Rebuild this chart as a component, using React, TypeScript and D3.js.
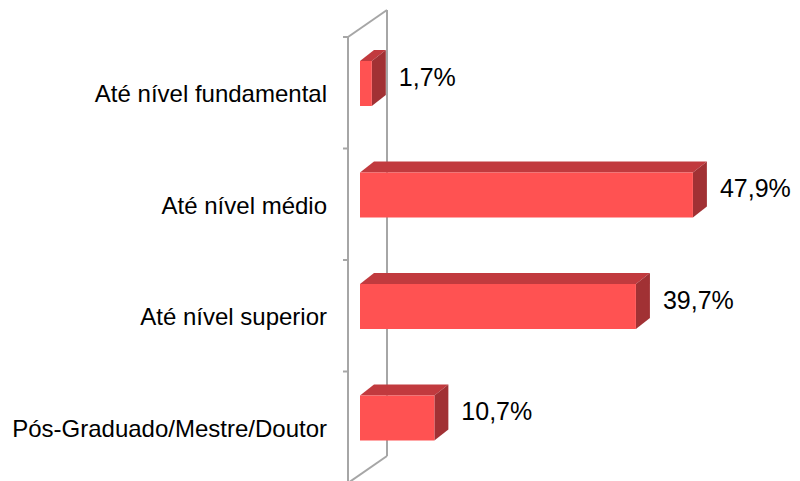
import React from "react";
import * as d3 from "d3";

const categories = [
  "Até nível fundamental",
  "Até nível médio",
  "Até nível superior",
  "Pós-Graduado/Mestre/Doutor",
];
const values = [1.7, 47.9, 39.7, 10.7];
const valueLabels = ["1,7%", "47,9%", "39,7%", "10,7%"];

const W = 800;
const H = 481;

export default function App() {
  const y = d3
    .scaleBand<string>()
    .domain(categories)
    .range([37, 37 + 4 * 111.5])
    .padding(0);
  const x = d3.scaleLinear().domain([0, 50]).range([360, 707.5]);

  const axisX = 348;
  const wallDx = 39;
  const wallDy = -27;
  const barDx = 14;
  const barDy = -11;
  const barOffset = 24;
  const barH = 45;
  const [yTop, yBot] = y.range();
  const lineColor = "#a6a6a6";
  const font = "'Liberation Sans', Arial, sans-serif";

  const ticks = categories.map((c) => y(c)!).concat([yBot]);

  return (
    <svg
      width={W}
      height={H}
      style={{ position: "absolute", left: 0, top: 0, background: "#fff" }}
    >
      {/* wall */}
      <g stroke={lineColor} strokeWidth={2} fill="none">
        <line x1={axisX} y1={yTop} x2={axisX} y2={yBot} />
        <line x1={axisX + wallDx} y1={yTop + wallDy} x2={axisX + wallDx} y2={yBot + wallDy} />
        <line x1={axisX} y1={yTop} x2={axisX + wallDx} y2={yTop + wallDy} />
        <line x1={axisX} y1={yBot} x2={axisX + wallDx} y2={yBot + wallDy} />
        {ticks.map((t, i) => (
          <line key={i} x1={axisX - 5} y1={t} x2={axisX} y2={t} />
        ))}
      </g>
      {/* bars */}
      {categories.map((c, i) => {
        const x0 = x(0);
        const x1 = x(values[i]);
        const yf = y(c)! + barOffset;
        const top = `${x0},${yf} ${x0 + barDx},${yf + barDy} ${x1 + barDx},${yf + barDy} ${x1},${yf}`;
        const right = `${x1},${yf} ${x1 + barDx},${yf + barDy} ${x1 + barDx},${yf + barH + barDy} ${x1},${yf + barH}`;
        return (
          <g key={c}>
            <polygon points={top} fill="#c13a3e" />
            <polygon points={right} fill="#a13134" />
            <rect x={x0} y={yf} width={x1 - x0} height={barH} fill="#ff5252" />
          </g>
        );
      })}
      {/* category labels */}
      {categories.map((c) => (
        <text
          key={c}
          x={327}
          y={y(c)! + y.bandwidth() / 2 + 1}
          dy="0.35em"
          textAnchor="end"
          fontFamily={font}
          fontSize={24}
          fill="#000"
        >
          {c}
        </text>
      ))}
      {/* value labels */}
      {categories.map((c, i) => (
        <text
          key={c}
          x={x(values[i]) + barDx + 13}
          y={y(c)! + y.bandwidth() / 2 - 16}
          dy="0.35em"
          textAnchor="start"
          fontFamily={font}
          fontSize={25}
          fill="#000"
        >
          {valueLabels[i]}
        </text>
      ))}
    </svg>
  );
}
